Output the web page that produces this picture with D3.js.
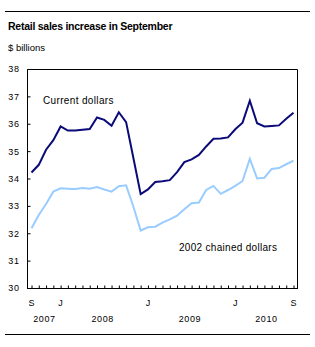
<!DOCTYPE html>
<html>
<head>
<meta charset="utf-8">
<script src="https://cdnjs.cloudflare.com/ajax/libs/d3/7.8.5/d3.min.js"></script>
<style>
  body { margin: 0; background: #fff; }
  svg text { font-family: "Liberation Sans", Arial, sans-serif; fill: #000; }
</style>
</head>
<body>
<svg id="chart" width="315" height="347"></svg>
<script>
// monthly values, Sep 2007 .. Sep 2010
var months = ["2007-09","2007-10","2007-11","2007-12",
  "2008-01","2008-02","2008-03","2008-04","2008-05","2008-06","2008-07","2008-08","2008-09","2008-10","2008-11","2008-12",
  "2009-01","2009-02","2009-03","2009-04","2009-05","2009-06","2009-07","2009-08","2009-09","2009-10","2009-11","2009-12",
  "2010-01","2010-02","2010-03","2010-04","2010-05","2010-06","2010-07","2010-08","2010-09"];
var currentDollars = [34.22, 34.5, 35.05, 35.4, 35.9, 35.75, 35.75, 35.78, 35.81, 36.23, 36.14, 35.93, 36.42, 36.06,
  34.75, 33.43, 33.6, 33.87, 33.9, 33.94, 34.23, 34.6, 34.7, 34.86, 35.17, 35.45, 35.46, 35.5, 35.8, 36.04,
  36.84, 36.02, 35.9, 35.92, 35.94, 36.18, 36.4];
var chainedDollars = [32.18, 32.67, 33.07, 33.52, 33.64, 33.63, 33.62, 33.65, 33.63, 33.69, 33.6, 33.52, 33.72, 33.75,
  32.97, 32.1, 32.22, 32.24, 32.39, 32.51, 32.64, 32.88, 33.1, 33.12, 33.58, 33.73, 33.44, 33.58, 33.73, 33.91,
  34.72, 34.0, 34.03, 34.35, 34.38, 34.52, 34.65];
var yTicks = [30, 31, 32, 33, 34, 35, 36, 37, 38];
var monthLabels = [{i: 0, t: "S"}, {i: 4, t: "J"}, {i: 16, t: "J"}, {i: 28, t: "J"}, {i: 36, t: "S"}];
var years = ["2007", "2008", "2009", "2010"];

var svg = d3.select("#chart");
var plot = {left: 27, right: 298, top: 69, bottom: 288};

var x = d3.scaleLinear().domain([0, months.length - 1]).range([31.5, 293.5]);
var y = d3.scaleLinear().domain([30, 38]).range([plot.bottom, plot.top]);

// rules top and bottom
svg.append("line").attr("x1", 5).attr("x2", 310).attr("y1", 11.5).attr("y2", 11.5)
  .attr("stroke", "#000").attr("stroke-width", 1);
svg.append("line").attr("x1", 5).attr("x2", 310).attr("y1", 334.5).attr("y2", 334.5)
  .attr("stroke", "#000").attr("stroke-width", 1);

svg.append("text").attr("x", 8).attr("y", 30)
  .style("font-size", "10.5px").style("font-weight", "bold").style("letter-spacing", "-0.25px")
  .text("Retail sales increase in September");
svg.append("text").attr("x", 8).attr("y", 50.5).style("font-size", "9.5px").text("$ billions");

// frame
svg.append("path")
  .attr("d", "M" + (plot.left + 0.5) + "," + plot.bottom + "V" + (plot.top + 0.5) +
    "H" + (plot.right - 0.5) + "V" + plot.bottom)
  .attr("fill", "none").attr("stroke", "#000");

// y axis
var yAxis = d3.axisLeft(y).tickValues(yTicks).tickSize(-3).tickPadding(8).tickFormat(d3.format("d"));
var gy = svg.append("g").attr("transform", "translate(" + (plot.left + 0.5) + ",0)").call(yAxis);
gy.select(".domain").remove();
gy.selectAll("text").style("font-size", "9px").style("letter-spacing", "0.6px")
  .style("font-family", "'Liberation Sans', Arial, sans-serif");

// x axis, one tick per month
var xAxis = d3.axisBottom(x).tickValues(d3.range(months.length)).tickSize(-3).tickFormat("");
var gx = svg.append("g").attr("transform", "translate(0," + (plot.bottom + 0.5) + ")").call(xAxis);
gx.select(".domain").attr("d", "M" + plot.left + ",0H" + plot.right);

svg.selectAll("text.month").data(monthLabels).enter().append("text")
  .attr("class", "month").attr("x", function(d) { return x(d.i); }).attr("y", 306)
  .attr("text-anchor", "middle").style("font-size", "9px").text(function(d) { return d.t; });

svg.selectAll("text.year").data(years).enter().append("text")
  .attr("class", "year")
  .attr("x", function(yr) {
    var idx = months.map(function(m, i) { return m.slice(0, 4) == yr ? i : -1; })
      .filter(function(i) { return i >= 0; });
    return x((idx[0] + idx[idx.length - 1]) / 2) + 2;
  })
  .attr("y", 321.5).attr("text-anchor", "middle")
  .style("font-size", "9px").style("letter-spacing", "0.6px").text(function(d) { return d; });

// lines
var line = d3.line().x(function(d, i) { return x(i); }).y(function(d) { return y(d); });
svg.append("path").datum(chainedDollars).attr("d", line)
  .attr("fill", "none").attr("stroke", "#99ccff").attr("stroke-width", 2);
svg.append("path").datum(currentDollars).attr("d", line)
  .attr("fill", "none").attr("stroke", "#0a0a78").attr("stroke-width", 2);

svg.append("text").attr("x", 43).attr("y", 104).style("font-size", "10px")
  .style("letter-spacing", "0.35px").text("Current dollars");
svg.append("text").attr("x", 179).attr("y", 250.5).style("font-size", "10px")
  .style("letter-spacing", "0.3px").text("2002 chained dollars");
</script>
</body>
</html>
